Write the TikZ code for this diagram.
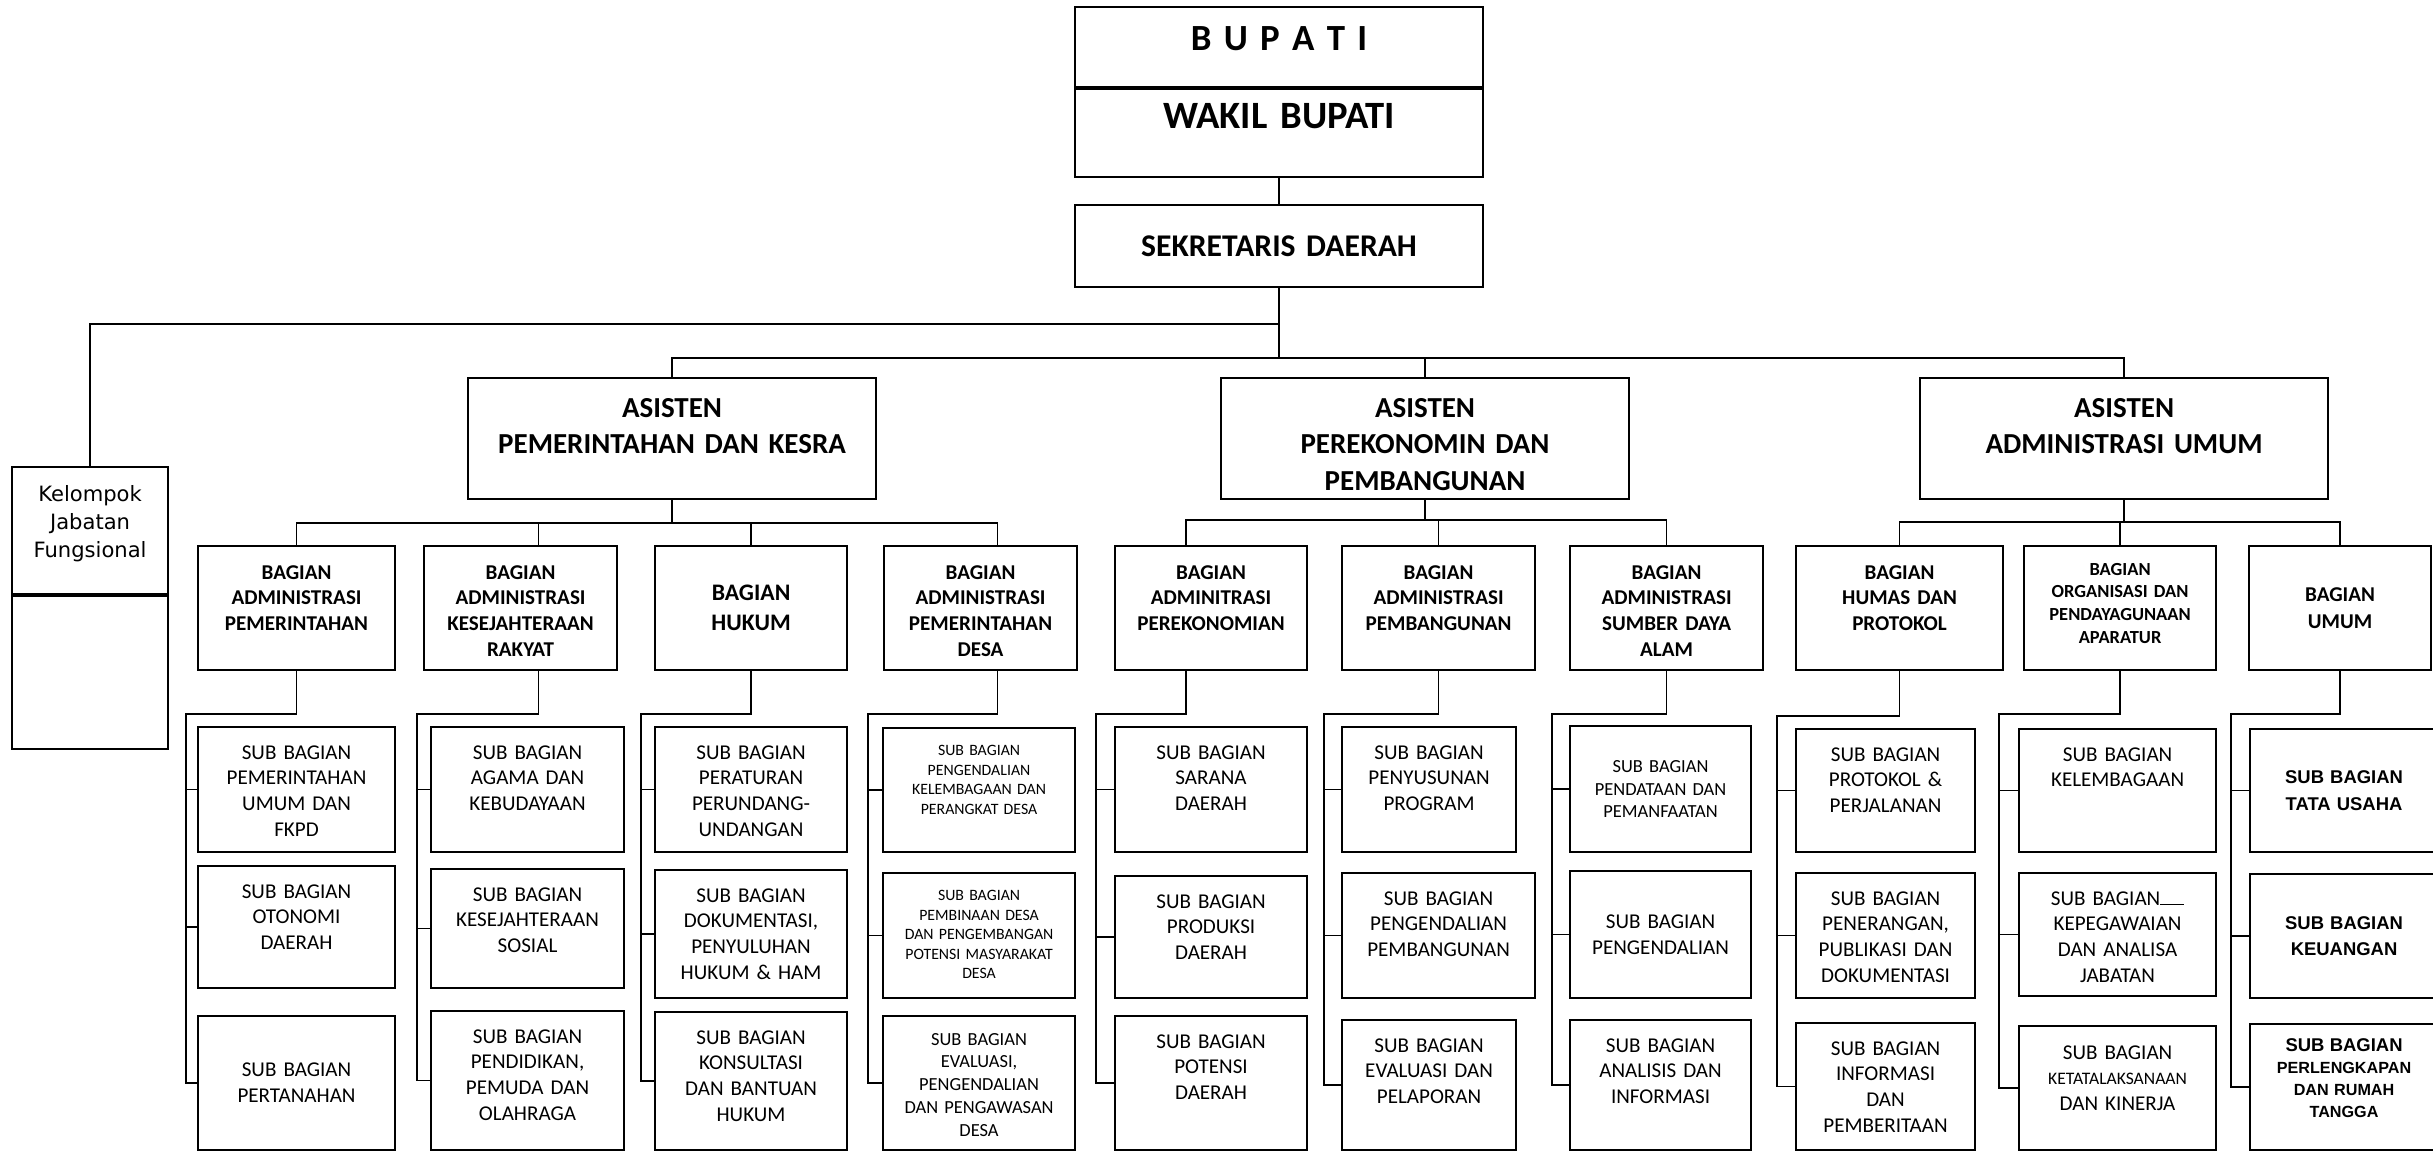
\documentclass[tikz,border=0pt]{standalone}
\usepackage{fontspec}
\setmainfont{Carlito}
\newfontfamily\arialfont{Liberation Sans}
\newfontfamily\tahomafont{DejaVu Sans}
\usetikzlibrary{positioning}
\tikzset{
  kotak/.style={
    draw=black,
    line width=1.2pt,
    inner sep=0pt,
    align=center,
    anchor=north west
  },
  atas/.style={kotak, text height=#1},
  atas/.default=0.64cm,
  garis/.style={line width=1pt},
  fsub/.style={font=\fontsize{12}{14.7}\selectfont},
  fkecil/.style={font=\fontsize{9}{11.1}\selectfont},
  fsedang/.style={font=\fontsize{10.5}{13}\selectfont},
  fbagian/.style={font=\fontsize{12}{14.7}\selectfont\bfseries},
  fasisten/.style={font=\fontsize{16.5}{21}\selectfont\bfseries},
  fumum/.style={font=\arialfont\fontsize{10.5}{15}\selectfont\bfseries}
}

\begin{document}
\begin{tikzpicture}[x=0.02cm, y=-0.02cm]
        \useasboundingbox (0,0) rectangle (2433,1152);
        % pimpinan
        \node[atas=0.86cm, text width=8.16cm, text depth=0.74cm, font=\fontsize{21}{25}\selectfont\bfseries] (bupati) at (1074,6) {B U P A T I};
        \node[atas=0.78cm, text width=8.16cm, text depth=0.98cm, font=\fontsize{22}{26}\selectfont\bfseries, below=0pt of bupati] (wakil) {WAKIL BUPATI};
        \node[kotak, text width=8.16cm, minimum height=1.64cm, font=\fontsize{18}{22}\selectfont\bfseries, below=0.52cm of wakil] (sekda) {SEKRETARIS DAERAH};
        \node[atas=0.69cm, text width=3.12cm, text depth=1.85cm, font=\tahomafont\fontsize{12}{16}\selectfont] (kjf) at (11,466) {Kelompok\\Jabatan\\Fungsional};
        \node[kotak, text width=3.12cm, minimum height=3.06cm, below=0pt of kjf] (kjfbawah) {};

        % asisten
        \node[atas=0.78cm, fasisten, text width=8.16cm, text depth=1.64cm] (as1) at (467,377) {ASISTEN\\PEMERINTAHAN DAN KESRA};
        \node[atas=0.78cm, fasisten, text width=8.16cm, text depth=1.64cm] (as2) at (1220,377) {ASISTEN\\PEREKONOMIN DAN\\PEMBANGUNAN};
        \node[atas=0.78cm, fasisten, text width=8.16cm, text depth=1.64cm] (as3) at (1919,377) {ASISTEN\\ADMINISTRASI UMUM};

        % bagian
        \node[atas=0.66cm, fbagian, text width=3.94cm, text depth=1.82cm] (b1) at (197,545) {BAGIAN\\ADMINISTRASI\\PEMERINTAHAN};
        \node[atas=0.66cm, fbagian, text width=3.86cm, text depth=1.82cm] (b2) at (423,545) {BAGIAN\\ADMINISTRASI\\KESEJAHTERAAN\\RAKYAT};
        \node[kotak, text width=3.84cm, minimum height=2.48cm, font=\fontsize{13.5}{17}\selectfont\bfseries] (b3) at (654,545) {BAGIAN\\HUKUM};
        \node[atas=0.66cm, fbagian, text width=3.86cm, text depth=1.82cm] (b4) at (883,545) {BAGIAN\\ADMINISTRASI\\PEMERINTAHAN\\DESA};
        \node[atas=0.66cm, fbagian, text width=3.84cm, text depth=1.82cm] (b5) at (1114,545) {BAGIAN\\ADMINITRASI\\PEREKONOMIAN};
        \node[atas=0.66cm, fbagian, text width=3.86cm, text depth=1.82cm] (b6) at (1341,545) {BAGIAN\\ADMINISTRASI\\PEMBANGUNAN};
        \node[atas=0.66cm, fbagian, text width=3.86cm, text depth=1.82cm] (b7) at (1569,545) {BAGIAN\\ADMINISTRASI\\SUMBER DAYA\\ALAM};
        \node[atas=0.66cm, fbagian, text width=4.14cm, text depth=1.82cm] (b8) at (1795,545) {BAGIAN\\HUMAS DAN\\PROTOKOL};
        \node[atas=0.58cm, text width=3.84cm, text depth=1.90cm, font=\fontsize{10.5}{13}\selectfont\bfseries] (b9) at (2023,545) {BAGIAN\\ORGANISASI DAN\\PENDAYAGUNAAN\\APARATUR};
        \node[kotak, text width=3.64cm, minimum height=2.48cm, font=\fontsize{12}{15.6}\selectfont\bfseries] (b10) at (2248,545) {BAGIAN\\UMUM};

        % sub bagian
        \node[atas, fsub, text width=3.94cm, text depth=1.86cm] (s11) at (197,726) {SUB BAGIAN\\PEMERINTAHAN\\UMUM DAN\\FKPD};
        \node[atas, fsub, text width=3.94cm, text depth=1.80cm] (s12) at (197,865) {SUB BAGIAN\\OTONOMI\\DAERAH};
        \node[kotak, fsub, text width=3.94cm, minimum height=2.68cm] (s13) at (197,1015) {SUB BAGIAN\\PERTANAHAN};

        \node[atas, fsub, text width=3.86cm, text depth=1.86cm] (s21) at (430,726) {SUB BAGIAN\\AGAMA DAN\\KEBUDAYAAN};
        \node[atas, fsub, text width=3.86cm, text depth=1.74cm] (s22) at (430,868) {SUB BAGIAN\\KESEJAHTERAAN\\SOSIAL};
        \node[atas, fsub, text width=3.86cm, text depth=2.14cm] (s23) at (430,1010) {SUB BAGIAN\\PENDIDIKAN,\\PEMUDA DAN\\OLAHRAGA};

        \node[atas, fsub, text width=3.84cm, text depth=1.86cm] (s31) at (654,726) {SUB BAGIAN\\PERATURAN\\PERUNDANG-\\UNDANGAN};
        \node[atas, fsub, text width=3.84cm, text depth=1.92cm] (s32) at (654,869) {SUB BAGIAN\\DOKUMENTASI,\\PENYULUHAN\\HUKUM \& HAM};
        \node[atas, fsub, text width=3.84cm, text depth=2.12cm] (s33) at (654,1011) {SUB BAGIAN\\KONSULTASI\\DAN BANTUAN\\HUKUM};

        \node[atas=0.55cm, fkecil, text width=3.84cm, text depth=1.93cm] (s41) at (882,727) {SUB BAGIAN\\PENGENDALIAN\\KELEMBAGAAN DAN\\PERANGKAT DESA};
        \node[atas=0.55cm, fkecil, text width=3.84cm, text depth=1.95cm] (s42) at (882,872) {SUB BAGIAN\\PEMBINAAN DESA\\DAN PENGEMBANGAN\\POTENSI MASYARAKAT\\DESA};
        \node[atas=0.58cm, fsedang, text width=3.84cm, text depth=2.10cm] (s43) at (882,1015) {SUB BAGIAN\\EVALUASI,\\PENGENDALIAN\\DAN PENGAWASAN\\DESA};

        \node[atas, fsub, text width=3.84cm, text depth=1.86cm] (s51) at (1114,726) {SUB BAGIAN\\SARANA\\DAERAH};
        \node[atas, fsub, text width=3.84cm, text depth=1.80cm] (s52) at (1114,875) {SUB BAGIAN\\PRODUKSI\\DAERAH};
        \node[atas, fsub, text width=3.84cm, text depth=2.04cm] (s53) at (1114,1015) {SUB BAGIAN\\POTENSI\\DAERAH};

        \node[atas, fsub, text width=3.48cm, text depth=1.86cm] (s61) at (1341,726) {SUB BAGIAN\\PENYUSUNAN\\PROGRAM};
        \node[atas, fsub, text width=3.86cm, text depth=1.86cm] (s62) at (1341,872) {SUB BAGIAN\\PENGENDALIAN\\PEMBANGUNAN};
        \node[atas, fsub, text width=3.48cm, text depth=1.96cm] (s63) at (1341,1019) {SUB BAGIAN\\EVALUASI DAN\\PELAPORAN};

        \node[kotak, fsedang, text width=3.62cm, minimum height=2.52cm] (s71) at (1569,725) {SUB BAGIAN\\PENDATAAN DAN\\PEMANFAATAN};
        \node[kotak, fsub, text width=3.62cm, minimum height=2.54cm] (s72) at (1569,870) {SUB BAGIAN\\PENGENDALIAN};
        \node[atas, fsub, text width=3.62cm, text depth=1.96cm] (s73) at (1569,1019) {SUB BAGIAN\\ANALISIS DAN\\INFORMASI};

        \node[atas, fsub, text width=3.58cm, text depth=1.82cm] (s81) at (1795,728) {SUB BAGIAN\\PROTOKOL \&\\PERJALANAN};
        \node[atas, fsub, text width=3.58cm, text depth=1.86cm] (s82) at (1795,872) {SUB BAGIAN\\PENERANGAN,\\PUBLIKASI DAN\\DOKUMENTASI};
        \node[atas, fsub, text width=3.58cm, text depth=1.90cm] (s83) at (1795,1022) {SUB BAGIAN\\INFORMASI\\DAN\\PEMBERITAAN};

        \node[atas, fsub, text width=3.94cm, text depth=1.82cm] (s91) at (2018,728) {SUB BAGIAN\\KELEMBAGAAN};
        \node[atas, fsub, text width=3.94cm, text depth=1.82cm] (s92) at (2018,872) {SUB BAGIAN\rule{0.48cm}{0.6pt}\\KEPEGAWAIAN\\DAN ANALISA\\JABATAN};
        \node[atas=0.66cm, fsub, text width=3.94cm, text depth=1.82cm] (s93) at (2018,1025) {SUB BAGIAN\\{\fontsize{10}{14}\selectfont KETATALAKSANAAN}\\DAN KINERJA};

        \node[kotak, fumum, text width=3.76cm, minimum height=2.46cm] (s101) at (2249,728) {SUB BAGIAN\\TATA USAHA};
        \node[kotak, fumum, text width=3.76cm, minimum height=2.48cm] (s102) at (2249,873) {SUB BAGIAN\\KEUANGAN};
        \node[atas=0.55cm, text width=3.76cm, text depth=1.97cm, font=\arialfont\fontsize{9.2}{12.5}\selectfont\bfseries] (s103) at (2249,1023) {{\fontsize{10.5}{12.5}\selectfont SUB BAGIAN}\\PERLENGKAPAN\\DAN RUMAH\\TANGGA};

        % garis atas
        \coordinate (cabang) at ([yshift=-0.72cm]sekda.south);
        \coordinate (bus0) at ([yshift=-1.40cm]sekda.south);
        \draw[garis] (wakil) -- (sekda);
        \draw[garis] (sekda) -- (bus0);
        \draw[garis] (kjf.north) |- (cabang);
        \draw[garis] (as1.north) |- (bus0) -| (as3.north);
        \draw[garis] (as2.north) -- (as2.north |- bus0);

        % asisten ke bagian
        \coordinate (busA) at ([yshift=-0.46cm]as1.south);
        \coordinate (busB) at ([yshift=-0.40cm]as2.south);
        \coordinate (busC) at ([yshift=-0.44cm]as3.south);
        \draw[garis] (as1) -- (busA);
        \draw[garis] (as2) -- (busB);
        \draw[garis] (as3) -- (busC);
        \draw[garis] (b1.north) |- (busA) -| ([xshift=0.34cm]b4.north);
        \draw[garis] ([xshift=0.36cm]b2.north) -- ([xshift=0.36cm]b2.north |- busA);
        \draw[garis] (b3.north) -- (b3.north |- busA);
        \draw[garis] ([xshift=-0.5cm]b5.north) |- (busB) -| (b7.north);
        \draw[garis] (b6.north) -- (b6.north |- busB);
        \draw[garis] (b8.north) |- (busC) -| (b10.north);
        \draw[garis] (b9.north) -- (b9.north |- busC);

        % bagian ke sub bagian
        \coordinate (k1) at (186,714);
        \coordinate (k2) at (417,714);
        \coordinate (k3) at (641,714);
        \coordinate (k4) at (868,714);
        \coordinate (k5) at (1096,714);
        \coordinate (k6) at (1324,714);
        \coordinate (k7) at (1552,714);
        \coordinate (k8) at (1777,716);
        \coordinate (k9) at (1999,714);
        \coordinate (k10) at (2231,714);
        \draw[garis] (b1.south) |- (k1) |- (s13.west);
        \draw[garis] (k1 |- s11.west) -- (s11.west);
        \draw[garis] (k1 |- s12.west) -- (s12.west);
        \draw[garis] ([xshift=0.36cm]b2.south) |- (k2) |- (s23.west);
        \draw[garis] (k2 |- s21.west) -- (s21.west);
        \draw[garis] (k2 |- s22.west) -- (s22.west);
        \draw[garis] (b3.south) |- (k3) |- (s33.west);
        \draw[garis] (k3 |- s31.west) -- (s31.west);
        \draw[garis] (k3 |- s32.west) -- (s32.west);
        \draw[garis] ([xshift=0.34cm]b4.south) |- (k4) |- (s43.west);
        \draw[garis] (k4 |- s41.west) -- (s41.west);
        \draw[garis] (k4 |- s42.west) -- (s42.west);
        \draw[garis] ([xshift=-0.5cm]b5.south) |- (k5) |- (s53.west);
        \draw[garis] (k5 |- s51.west) -- (s51.west);
        \draw[garis] (k5 |- s52.west) -- (s52.west);
        \draw[garis] (b6.south) |- (k6) |- (s63.west);
        \draw[garis] (k6 |- s61.west) -- (s61.west);
        \draw[garis] (k6 |- s62.west) -- (s62.west);
        \draw[garis] (b7.south) |- (k7) |- (s73.west);
        \draw[garis] (k7 |- s71.west) -- (s71.west);
        \draw[garis] (k7 |- s72.west) -- (s72.west);
        \draw[garis] (b8.south) |- (k8) |- (s83.west);
        \draw[garis] (k8 |- s81.west) -- (s81.west);
        \draw[garis] (k8 |- s82.west) -- (s82.west);
        \draw[garis] (b9.south) |- (k9) |- (s93.west);
        \draw[garis] (k9 |- s91.west) -- (s91.west);
        \draw[garis] (k9 |- s92.west) -- (s92.west);
        \draw[garis] (b10.south) |- (k10) |- (s103.west);
        \draw[garis] (k10 |- s101.west) -- (s101.west);
        \draw[garis] (k10 |- s102.west) -- (s102.west);
      \end{tikzpicture}
\end{document}
